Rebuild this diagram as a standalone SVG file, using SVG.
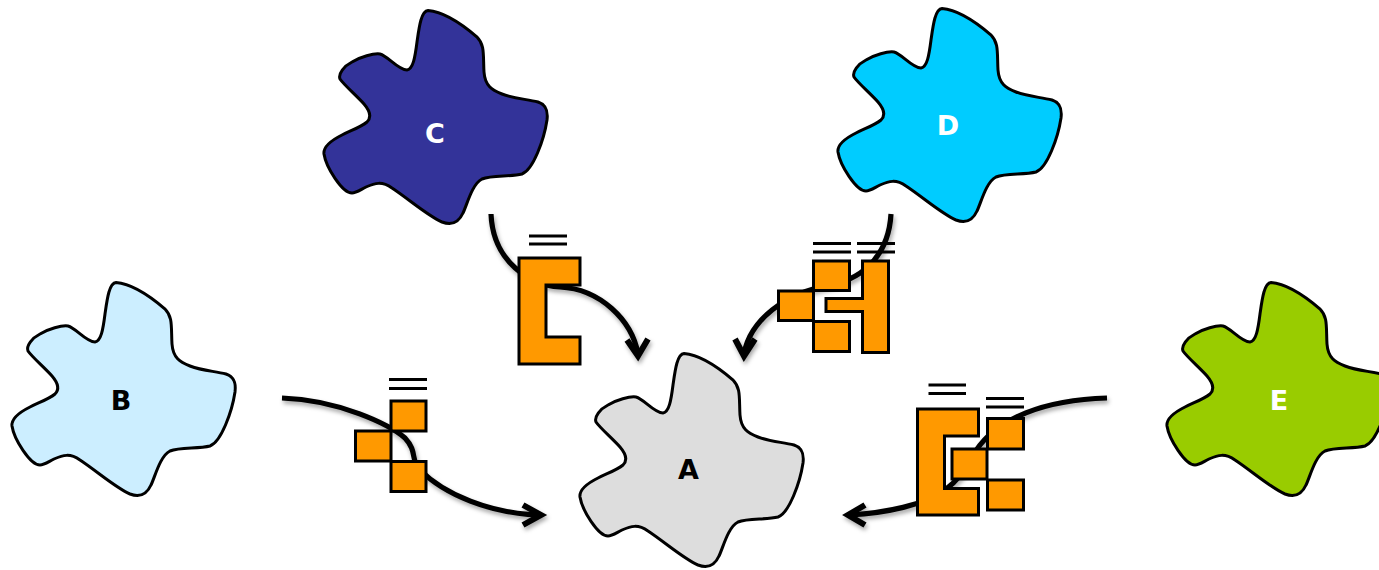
<svg xmlns="http://www.w3.org/2000/svg" width="1379" height="570" viewBox="0 0 1379 570">
<style>
.blob{stroke:#000;stroke-width:3;stroke-linejoin:round}
.lbl{font-family:"DejaVu Sans",sans-serif;font-weight:bold;font-size:27px;text-anchor:middle}
.o{fill:#ff9900;stroke:#000;stroke-width:3;stroke-linejoin:miter}
.bar{stroke:#000;stroke-width:2.8;fill:none}
.c{fill:none;stroke:#000;stroke-width:5.2}
.h{fill:none;stroke:#000;stroke-width:6}
.sh{filter:url(#s)}
</style>
<defs>
<filter id="s" x="-20%" y="-20%" width="140%" height="140%"><feDropShadow dx="1.5" dy="3" stdDeviation="2.2" flood-color="#000" flood-opacity="0.35"/></filter>
<path id="b" d="M108,10.5C128,12 150,31 157,37C165,45 163,55 164,72C165,86 172,90 182,94C195,99 207,99 218,102C227,105 228,112 227,120C224,140 213,170 202,174C190,177 172,175 162,179C152,184 147,205 143,213C138,224 130,225 122,222C108,216 90,200 72,188C62,181 55,183 46,187C40,190 36,193 32,193C22,193 6,167 4,154C3,146 12,140 22,135C32,130 41,127 47,122C52,117 50,111 44,104C37,96 24,85 20,79C18,74 24,66 32,62C40,57 54,53 60,54C68,56 78,70 87,70C93,69 95,58 97,42C99,28 101,11 108,10.5Z"/>
</defs>
<g id="connectors">
<g class="sh">
<path class="c" d="M491,214C493,262 530,285 560,287C600,289 632,320 638,354"/>
<path class="h" d="M627,340L638,356L648,339"/>
</g>
<g class="sh">
<path class="c" d="M891,214C889,250 868,278 830,285C785,293 750,320 744,354"/>
<path class="h" d="M735,339L744,356L755,339"/>
</g>
<g class="sh">
<path class="c" d="M282,398C340,400 390,425 405,438C418,452 410,460 420,470C445,495 490,513 538,515"/>
<path class="h" d="M523,505L541,515L523,525"/>
</g>
<g class="sh">
<path class="c" d="M1107,398C1040,400 1000,420 980,445C965,465 965,475 945,490C925,505 885,513 850,515"/>
<path class="h" d="M865,505L848,515L865,525"/>
</g>
</g>
<g id="node-a"><use href="#b" class="blob" fill="#dddddd" transform="translate(576,343)"/><text class="lbl" x="688.5" y="479" fill="#000">A</text></g>
<g id="node-b"><use href="#b" class="blob" fill="#cceeff" transform="translate(8,272)"/><text class="lbl" x="121" y="410" fill="#000">B</text></g>
<g id="node-c"><use href="#b" class="blob" fill="#333399" transform="translate(320,0)"/><text class="lbl" x="435" y="143" fill="#fff">C</text></g>
<g id="node-d"><use href="#b" class="blob" fill="#00ccff" transform="translate(834,-2)"/><text class="lbl" x="948" y="135" fill="#fff">D</text></g>
<g id="node-e"><use href="#b" class="blob" fill="#99cc00" transform="translate(1163,272)"/><text class="lbl" x="1279" y="410" fill="#fff">E</text></g>
<g id="complex-c">
<path class="o" d="M519,258H580V285H546V337H580V364H519Z"/>
<path class="bar" d="M529,236H567M529,244H567"/>
</g>
<g id="complex-d">
<rect class="o" x="813.5" y="261" width="36" height="29.5"/>
<rect class="o" x="778.5" y="291" width="35" height="29.5"/>
<rect class="o" x="813.5" y="321.5" width="36" height="30"/>
<path class="o" d="M862.5,261H888.5V352.5H862.5V311.5H826V298.5H862.5Z"/>
<path class="bar" d="M813,243.5H851M813,252H851M857,243.5H895M857,252H895"/>
</g>
<g id="complex-b">
<rect class="o" x="391" y="401" width="35" height="30"/>
<rect class="o" x="355.5" y="431" width="35.5" height="30"/>
<rect class="o" x="391" y="461.5" width="35" height="30"/>
<path class="bar" d="M389,379.5H427M389,388.5H427"/>
</g>
<g id="complex-e">
<path class="o" d="M917.5,409H978.5V436H944.5V488.5H978.5V515H917.5Z"/>
<rect class="o" x="987.5" y="418.5" width="36" height="30.5"/>
<rect class="o" x="952" y="449" width="35" height="30"/>
<rect class="o" x="987.5" y="480" width="36" height="30"/>
<path class="bar" d="M928.5,385H966M928.5,393.5H966M986,398.5H1024M986,407H1024"/>
</g>
</svg>
